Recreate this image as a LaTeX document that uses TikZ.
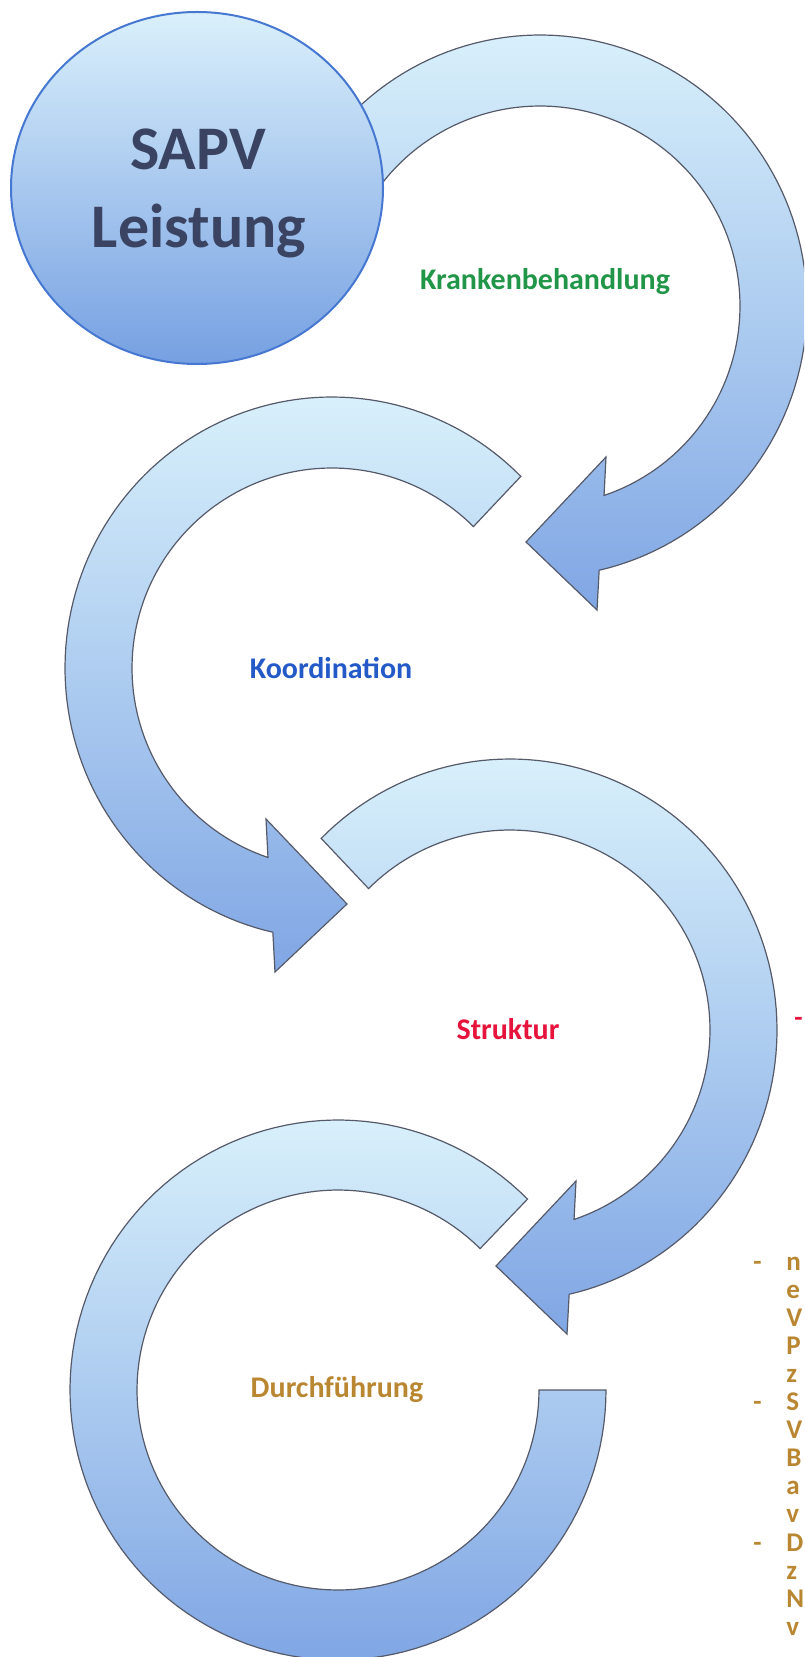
\documentclass[tikz,border=0pt]{standalone}
\usepackage{fontspec}
\setmainfont{Carlito}
\usetikzlibrary{shapes.geometric}
\definecolor{lightarc}{RGB}{216,240,251}
\definecolor{darkarc}{RGB}{128,166,228}
\definecolor{arcline}{RGB}{85,90,105}
\definecolor{circline}{RGB}{70,120,210}
\definecolor{circtop}{RGB}{218,240,251}
\definecolor{circbot}{RGB}{118,160,226}
\definecolor{sapvtext}{RGB}{58,68,98}
\definecolor{kgreen}{RGB}{34,150,72}
\definecolor{kblue}{RGB}{35,90,200}
\definecolor{kred}{RGB}{230,20,60}
\definecolor{kbrown}{RGB}{185,135,50}
\tikzset{
  arcshape/.style={draw=arcline, line width=0.6pt, line join=miter, top color=lightarc, bottom color=darkarc},
  arctext/.style={font=\fontsize{15}{18}\selectfont\bfseries, anchor=base, inner sep=0pt},
  bigtext/.style={font=\fontsize{31}{37}\selectfont\bfseries, text=sapvtext, anchor=base, inner sep=0pt},
  bullettext/.style={font=\fontsize{13.5}{16}\selectfont\bfseries, text=kbrown, anchor=base west, inner sep=0pt},
  edgetext/.style={bullettext, anchor=base east},
  circstyle/.style={ellipse, draw=circline, line width=1pt, top color=circtop, bottom color=circbot, inner sep=0pt}
}
% clockwise circular arrow: centre x, centre y, tail angle
\newcommand{\cwArcArrow}[3]{%
  \draw[arcshape] plot[domain=#3:437.2,samples=110] ({#1+267*cos(\x)},{#2+271*sin(\x)})
    -- ({#1+57},{#2+304}) -- ({#1-14},{#2+236}) -- ({#1+66},{#2+151}) -- ({#1+64},{#2+190})
    -- plot[domain=431.3:#3,samples=110] ({#1+200*cos(\x)},{#2+200*sin(\x)}) -- cycle;}
% counter-clockwise circular arrow
\newcommand{\ccwArcArrow}[3]{%
  \draw[arcshape] plot[domain=#3:102.8,samples=110] ({#1+267*cos(\x)},{#2+271*sin(\x)})
    -- ({#1-57},{#2+304}) -- ({#1+15},{#2+236}) -- ({#1-66},{#2+151}) -- ({#1-64},{#2+190})
    -- plot[domain=108.7:#3,samples=110] ({#1+200*cos(\x)},{#2+200*sin(\x)}) -- cycle;}
\begin{document}
\begin{tikzpicture}[x=0.5pt,y=-0.5pt]
\useasboundingbox (0,0) rectangle (804,1657);
\clip (0,0) rectangle (804,1657);
% arrows
\cwArcArrow{540}{306}{205}
\ccwArcArrow{332}{668}{315}
\cwArcArrow{510}{1030}{225}
\draw[arcshape] plot[domain=315:0,samples=130] ({338+268*cos(\x)},{1390+270*sin(\x)})
  -- plot[domain=0:315,samples=130] ({338+201*cos(\x)},{1390+200*sin(\x)}) -- cycle;
% SAPV circle
\node[circstyle, minimum width=186pt, minimum height=176pt] (circ) at (197,188) {};
\node[bigtext] (sapv) at (198,170) {SAPV};
\node[bigtext] (leist) at (199,248) {Leistung};
% labels
\node[arctext, text=kgreen] (krank) at (545,290) {Krankenbehandlung};
\node[arctext, text=kblue] (koord) at (331,678) {Koordination};
\node[arctext, text=kred] (strukt) at (508,1039) {Struktur};
\node[arctext, text=kbrown] (durch) at (337,1397) {Durchführung};
% text fragments at the right edge
\node[edgetext, text=kred] (redmark) at (803,1026) {-};
\foreach \l [count=\i] in {n,e,V,P,z,S,V,B,a,v,D,z,N,v}
  \node[bullettext] (b\i) at (786,{1270+28.1*(\i-1)}) {\l};
\node[bullettext] (dash1) at (753,1270) {-};
\node[bullettext] (dash2) at (753,1410.5) {-};
\node[bullettext] (dash3) at (753,1551) {-};
\end{tikzpicture}
\end{document}
